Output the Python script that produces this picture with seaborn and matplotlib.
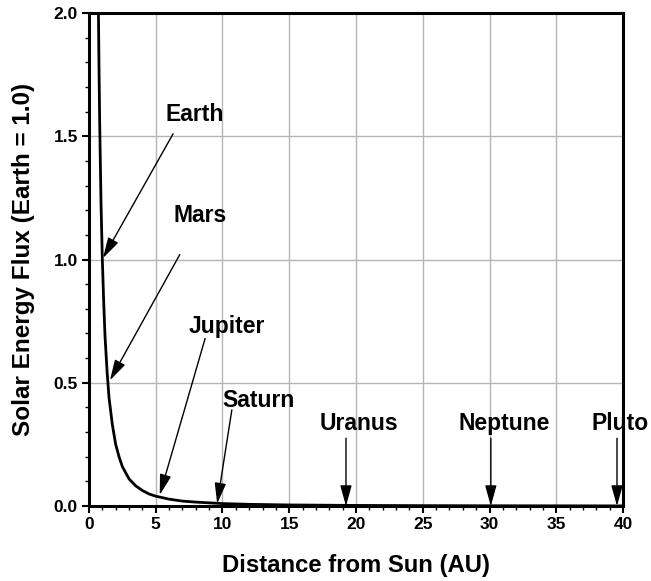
import matplotlib
matplotlib.use("Agg")
import matplotlib.pyplot as plt
import seaborn as sns
import pandas as pd
from matplotlib.ticker import MultipleLocator, FormatStrFormatter

# Curve values
distance_au = [0.70, 0.75, 0.80, 0.90, 1.00, 1.10, 1.20, 1.35, 1.50, 1.75, 2.00, 2.25, 2.50,
               3.00, 3.50, 4.00, 4.50, 5.00, 6.00, 7.00, 8.00, 10.0, 12.0, 15.0, 20.0, 25.0,
               30.0, 35.0, 40.0]
flux = [2.04, 1.78, 1.56, 1.23, 1.00, 0.83, 0.69, 0.55, 0.44, 0.33, 0.25, 0.20, 0.16,
        0.11, 0.082, 0.063, 0.049, 0.040, 0.028, 0.020, 0.016, 0.010, 0.007, 0.0044, 0.0025, 0.0016,
        0.0011, 0.0008, 0.0006]

# Planet annotations: label, label position, arrow tail, arrow head
planets = ["Earth", "Mars", "Jupiter", "Saturn", "Uranus", "Neptune", "Pluto"]
label_x = [7.9, 8.3, 10.3, 12.7, 20.2, 31.1, 39.8]
label_y = [1.59, 1.18, 0.73, 0.43, 0.335, 0.335, 0.335]
tail_x = [6.3, 6.8, 8.7, 10.7, 19.25, 30.1, 39.55]
tail_y = [1.51, 1.02, 0.68, 0.39, 0.275, 0.275, 0.275]
head_x = [1.05, 1.57, 5.3, 9.6, 19.25, 30.1, 39.55]
head_y = [1.006, 0.51, 0.045, 0.01, 0.0, 0.0, 0.0]

sns.set_style("ticks")
plt.rcParams['font.family'] = ['Liberation Sans', 'DejaVu Sans']
plt.rcParams['font.weight'] = 'bold'
plt.rcParams['text.color'] = 'black'
plt.rcParams['axes.labelcolor'] = 'black'
plt.rcParams['xtick.color'] = 'black'
plt.rcParams['ytick.color'] = 'black'

fig = plt.figure(figsize=(6.51, 5.81), dpi=100)
ax = fig.add_axes([0.1367, 0.129, 0.8203, 0.8486])

df = pd.DataFrame({"d": distance_au, "f": flux})
sns.lineplot(data=df, x="d", y="f", ax=ax, color="black", linewidth=2.0)

ax.set_xlim(0, 40)
ax.set_ylim(0, 2.0)
ax.xaxis.set_major_locator(MultipleLocator(5))
ax.xaxis.set_minor_locator(MultipleLocator(1))
ax.yaxis.set_major_locator(MultipleLocator(0.5))
ax.yaxis.set_minor_locator(MultipleLocator(0.1))
ax.yaxis.set_major_formatter(FormatStrFormatter('%.1f'))
ax.grid(True, which='major', color='#b5b5b5', linewidth=1.0)
ax.set_axisbelow(True)
for s in ax.spines.values():
    s.set_visible(True)
    s.set_linewidth(2.2)
    s.set_color('black')
ax.tick_params(which='major', direction='out', length=5, width=1.5, labelsize=12.5, pad=3,
               colors='black')
ax.tick_params(which='minor', direction='out', length=3, width=1.0, colors='black')
ax.tick_params(top=False, right=False, which='both')
for lab in ax.get_xticklabels() + ax.get_yticklabels():
    lab.set_fontweight('bold')

ax.set_xlabel("Distance from Sun (AU)", fontsize=17.2, fontweight='bold', labelpad=16,
              color='black')
ax.set_ylabel("Solar Energy Flux (Earth = 1.0)", fontsize=17.5, fontweight='bold', labelpad=13,
              color='black')

for name, lx, ly, tx, ty, hx, hy in zip(planets, label_x, label_y, tail_x, tail_y, head_x, head_y):
    ax.text(lx, ly, name, ha='center', va='center', fontsize=16.5, fontweight='bold',
            color='black')
    ax.annotate("", xy=(hx, hy), xytext=(tx, ty),
                arrowprops=dict(arrowstyle='-|>,head_length=0.9,head_width=0.25',
                                color='black', lw=1.0,
                                mutation_scale=14, shrinkA=0, shrinkB=0),
                annotation_clip=False)

fig.savefig("out.png", dpi=100)
